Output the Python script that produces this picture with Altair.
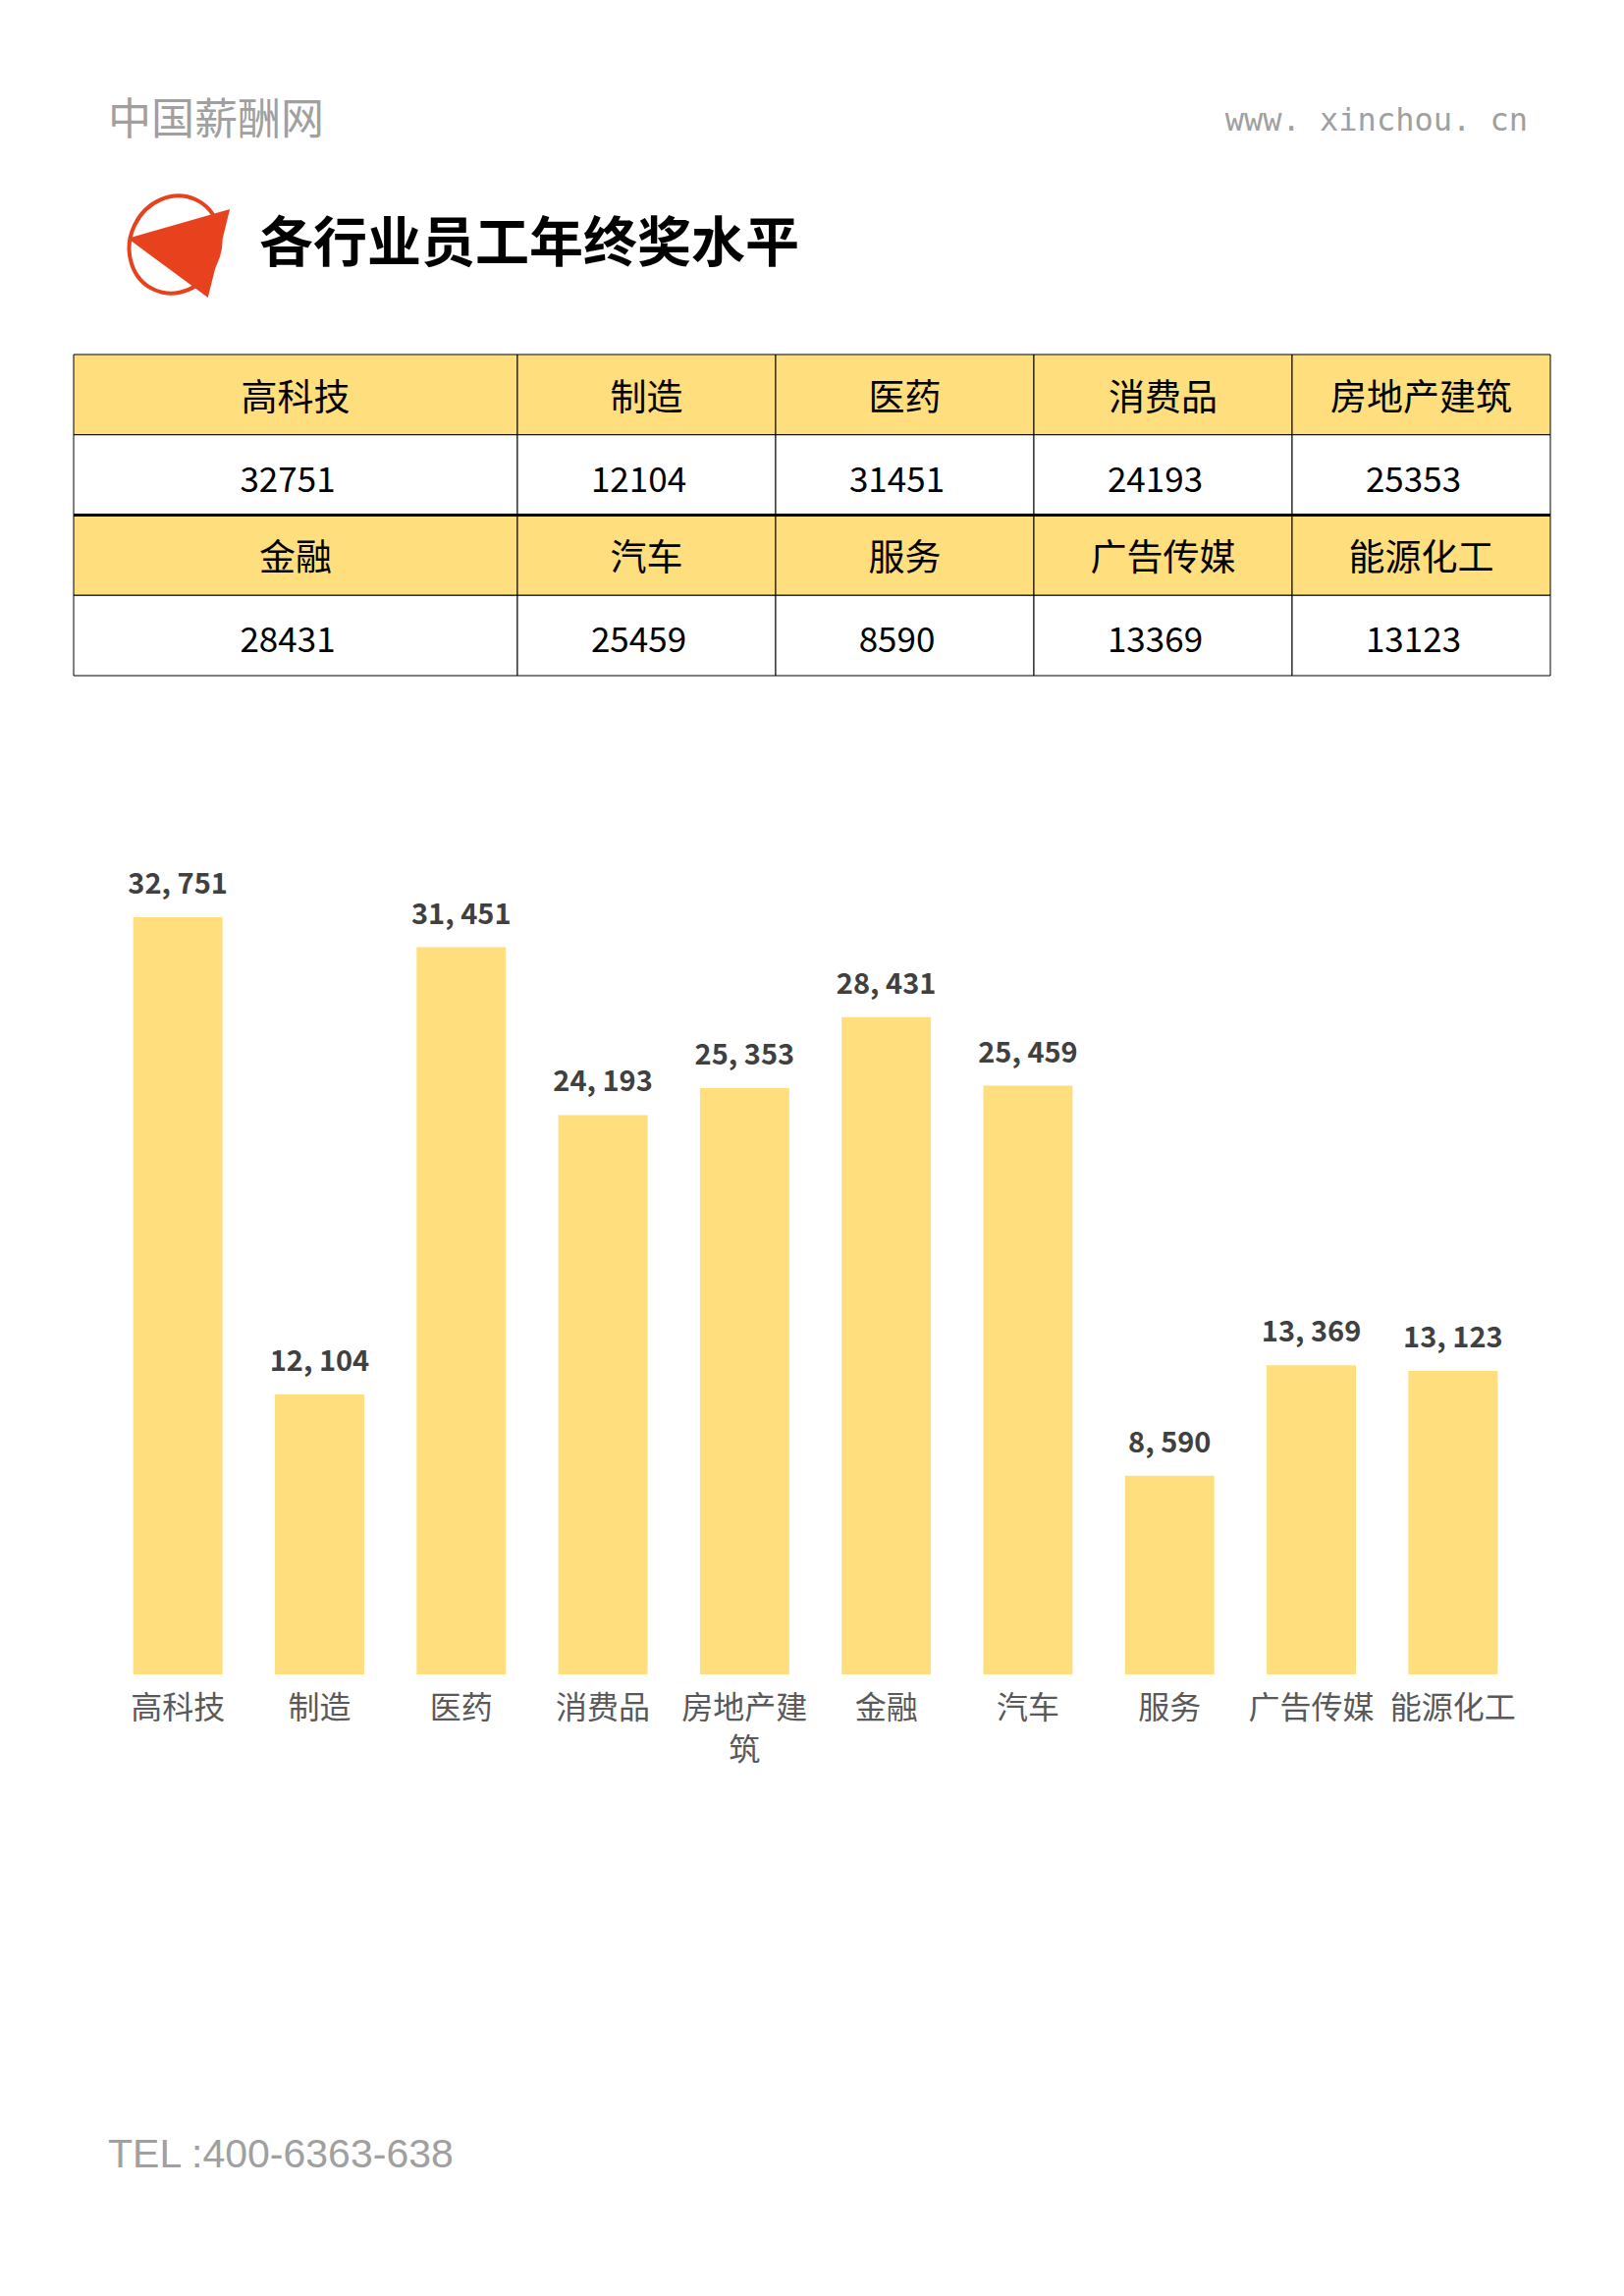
import altair as alt
import pandas as pd

# ---------------- data ----------------
CATEGORIES = ["高科技", "制造", "医药", "消费品", "房地产建筑",
              "金融", "汽车", "服务", "广告传媒", "能源化工"]
VALUES = [32751, 12104, 31451, 24193, 25353, 28431, 25459, 8590, 13369, 13123]

TITLE = "各行业员工年终奖水平"
BRAND = "中国薪酬网"
SITE = "www. xinchou. cn"
PHONE = "TEL :400-6363-638"

# ---------------- layout / style ----------------
W, H = 1638, 2322
FONT = "Noto Sans CJK SC"
YELLOW = "#FFDE7E"
RED = "#E8411E"
GREY = "#A0A0A0"
COL_WIDTHS = [452, 263, 263, 263, 263]
TABLE_X = [67, 1571]
TABLE_Y = [353, 680]
BAR_X = [101, 1544]
BAR_Y = [1697, 873]
Y_MAX = 35000
PER_ROW = 5

one = alt.Data(values=[{"k": 0}])

# ---------------- header decorations ----------------
brand = alt.Chart(one).mark_text(
    text=BRAND, font=FONT, fontSize=44, color=GREY, align="left", baseline="middle"
).encode(x=alt.value(102), y=alt.value(116))

site = alt.Chart(one).mark_text(
    text=SITE, font="DejaVu Sans Mono", fontSize=32, color=GREY, align="right", baseline="middle"
).encode(x=alt.value(1548), y=alt.value(115))

oval_path = ("M 0.816 0.380 A 0.9 1 25 1 1 -0.816 -0.380 "
             "A 0.9 1 25 1 1 0.816 0.380 Z")
oval = alt.Chart(one).mark_point(
    shape=oval_path, size=10200, filled=False, stroke=RED, strokeWidth=4, opacity=1
).encode(x=alt.value(170), y=alt.value(241))

tri = alt.Chart(one).mark_point(
    shape="M -0.94 -0.12 L 1.06 -0.69 L 0.63 1.04 Z", size=10816,
    filled=True, fill=RED, strokeWidth=0, opacity=1
).encode(x=alt.value(171), y=alt.value(241))

title = alt.Chart(one).mark_text(
    text=TITLE, font=FONT, fontSize=55, fontWeight="bold", color="#000000",
    align="left", baseline="middle"
).encode(x=alt.value(256), y=alt.value(241))

phone = alt.Chart(one).mark_text(
    text=PHONE, font="Liberation Sans", fontSize=41, color=GREY,
    align="left", baseline="middle"
).encode(x=alt.value(102), y=alt.value(2187))

# ---------------- table ----------------
edges = [0]
for w in COL_WIDTHS:
    edges.append(edges[-1] + w)

rows = []
for i, (c, v) in enumerate(zip(CATEGORIES, VALUES)):
    b, col = divmod(i, PER_ROW)
    base = dict(x0=edges[col], x1=edges[col + 1], xc=(edges[col] + edges[col + 1]) / 2)
    rows.append(dict(base, row=f"r{2*b}", kind="head", text=c))
    rows.append(dict(base, row=f"r{2*b+1}", kind="val", text=str(v)))
tdf = pd.DataFrame(rows)
ROW_ORDER = ["r0", "r1", "r2", "r3"]

xs = alt.Scale(domain=[0, edges[-1]], range=TABLE_X, nice=False, zero=False)
ys = alt.Scale(domain=ROW_ORDER, range=TABLE_Y, paddingInner=0, paddingOuter=0)

tbase = alt.Chart(tdf)
cells = tbase.mark_rect(stroke="#000000", strokeWidth=1).encode(
    x=alt.X("x0:Q", scale=xs, axis=None),
    x2="x1:Q",
    y=alt.Y("row:N", scale=ys, axis=None),
    fill=alt.condition(alt.datum.kind == "head", alt.value(YELLOW), alt.value("#FFFFFF")),
)
head_txt = tbase.transform_filter(alt.datum.kind == "head").mark_text(
    font=FONT, fontSize=37, color="#000000", baseline="middle", dy=5
).encode(x=alt.X("xc:Q", scale=xs, axis=None), y=alt.Y("row:N", scale=ys, axis=None), text="text:N")
val_txt = tbase.transform_filter(alt.datum.kind == "val").mark_text(
    font=FONT, fontSize=35, color="#000000", baseline="middle", dx=-8, dy=6
).encode(x=alt.X("xc:Q", scale=xs, axis=None), y=alt.Y("row:N", scale=ys, axis=None), text="text:N")
thick = tbase.transform_filter(alt.datum.row == "r1").mark_rule(
    color="#000000", strokeWidth=3
).encode(
    x=alt.X("x0:Q", scale=xs, axis=None), x2="x1:Q",
    y=alt.Y("row:N", scale=ys, axis=None, bandPosition=1),
)
table = alt.layer(cells, thick, head_txt, val_txt)

# ---------------- bar chart ----------------
def wrap(s, n=4):
    return s if len(s) <= n else s[:n] + "\n" + s[n:]

bdf = pd.DataFrame({
    "cat": CATEGORIES,
    "val": VALUES,
    "label": [f"{v:,}".replace(",", ", ") for v in VALUES],
    "catlabel": [wrap(c) for c in CATEGORIES],
    "zero": [0] * len(CATEGORIES),
})
bx = alt.Scale(domain=CATEGORIES, range=BAR_X, paddingInner=0.37, paddingOuter=0.185)
by = alt.Scale(domain=[0, Y_MAX], range=BAR_Y, nice=False, zero=True)

bbase = alt.Chart(bdf)
bars = bbase.mark_bar(color=YELLOW).encode(
    x=alt.X("cat:N", scale=bx, axis=None),
    y=alt.Y("val:Q", scale=by, axis=None),
)
blabels = bbase.mark_text(
    font=FONT, fontSize=29, fontWeight="bold", color="#404040", baseline="middle", dy=-33
).encode(
    x=alt.X("cat:N", scale=bx, axis=None),
    y=alt.Y("val:Q", scale=by, axis=None),
    text="label:N",
)
clabels = bbase.mark_text(
    font=FONT, fontSize=32, color="#595959", baseline="top", dy=20,
    lineBreak="\n", lineHeight=43
).encode(
    x=alt.X("cat:N", scale=bx, axis=None),
    y=alt.Y("zero:Q", scale=by, axis=None),
    text="catlabel:N",
)
barchart = alt.layer(bars, blabels, clabels)

chart = alt.layer(
    brand, site, oval, tri, title, table, barchart, phone
).resolve_scale(
    x="independent", y="independent"
).properties(
    width=W, height=H, padding=0, background="#FFFFFF"
).configure_view(strokeWidth=0)

chart.save("out.html", embed_options={"renderer": "svg", "actions": False})
